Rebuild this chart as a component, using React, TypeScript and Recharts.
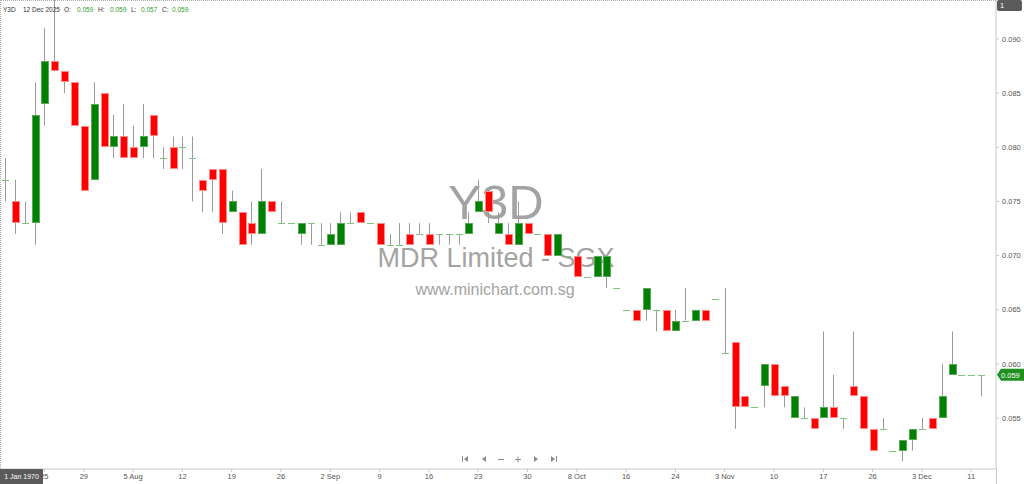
import { ComposedChart, Bar, XAxis, YAxis, ReferenceLine } from "recharts";

// daily OHLC, one entry per trading day (Jul 2025 - 12 Dec 2025)
const opens = [
  0.077, 0.075, 0.073, 0.073, 0.084, 0.088, 0.087, 0.086, 0.082, 0.077,
  0.085, 0.080, 0.081, 0.080, 0.080, 0.083, 0.079, 0.080, 0.080, 0.079,
  0.077, 0.078, 0.078, 0.074, 0.074, 0.073, 0.072, 0.075, 0.073, 0.073,
  0.072, 0.073, 0.071, 0.071, 0.071, 0.073, 0.074, 0.073, 0.073, 0.071,
  0.071, 0.072, 0.072, 0.072, 0.072, 0.072, 0.072, 0.072, 0.074, 0.076,
  0.072, 0.072, 0.071, 0.073, 0.072, 0.072, 0.070, 0.070, 0.070, 0.068,
  0.068, 0.068, 0.067, 0.065, 0.065, 0.065, 0.065, 0.065, 0.063, 0.064,
  0.064, 0.065, 0.066, 0.061, 0.062, 0.057, 0.056, 0.058, 0.060, 0.058,
  0.055, 0.055, 0.055, 0.055, 0.056, 0.055, 0.058, 0.057, 0.054, 0.054,
  0.052, 0.052, 0.053, 0.054, 0.055, 0.055, 0.059, 0.059, 0.059, 0.059,
];
const highs = [
  0.079, 0.077, 0.075, 0.086, 0.091, 0.094, 0.087, 0.086, 0.082, 0.086,
  0.085, 0.083, 0.084, 0.082, 0.084, 0.083, 0.080, 0.081, 0.081, 0.081,
  0.077, 0.078, 0.078, 0.076, 0.074, 0.075, 0.078, 0.075, 0.075, 0.073,
  0.073, 0.073, 0.073, 0.073, 0.074, 0.074, 0.074, 0.073, 0.073, 0.072,
  0.073, 0.073, 0.073, 0.073, 0.072, 0.072, 0.072, 0.074, 0.077, 0.076,
  0.074, 0.073, 0.075, 0.073, 0.072, 0.072, 0.072, 0.070, 0.070, 0.068,
  0.070, 0.070, 0.067, 0.065, 0.065, 0.067, 0.065, 0.065, 0.065, 0.067,
  0.065, 0.065, 0.066, 0.067, 0.062, 0.057, 0.056, 0.060, 0.060, 0.058,
  0.057, 0.056, 0.055, 0.063, 0.059, 0.055, 0.063, 0.057, 0.054, 0.055,
  0.052, 0.053, 0.054, 0.055, 0.055, 0.060, 0.063, 0.059, 0.059, 0.059,
];
const lows = [
  0.075, 0.072, 0.073, 0.071, 0.082, 0.087, 0.085, 0.082, 0.076, 0.077,
  0.080, 0.079, 0.079, 0.079, 0.079, 0.079, 0.078, 0.078, 0.078, 0.075,
  0.074, 0.074, 0.072, 0.074, 0.071, 0.071, 0.072, 0.074, 0.073, 0.073,
  0.071, 0.071, 0.071, 0.071, 0.071, 0.073, 0.073, 0.073, 0.071, 0.071,
  0.071, 0.071, 0.072, 0.071, 0.071, 0.071, 0.071, 0.072, 0.074, 0.073,
  0.072, 0.071, 0.071, 0.072, 0.072, 0.070, 0.070, 0.070, 0.068, 0.068,
  0.068, 0.067, 0.067, 0.065, 0.064, 0.064, 0.063, 0.063, 0.063, 0.064,
  0.064, 0.064, 0.066, 0.061, 0.054, 0.056, 0.056, 0.056, 0.057, 0.056,
  0.055, 0.055, 0.054, 0.055, 0.055, 0.054, 0.057, 0.054, 0.052, 0.054,
  0.052, 0.051, 0.052, 0.054, 0.054, 0.055, 0.059, 0.059, 0.059, 0.057,
];
const closes = [
  0.077, 0.073, 0.073, 0.083, 0.088, 0.087, 0.086, 0.082, 0.076, 0.084,
  0.080, 0.081, 0.079, 0.079, 0.081, 0.081, 0.079, 0.078, 0.080, 0.079,
  0.076, 0.077, 0.073, 0.075, 0.071, 0.072, 0.075, 0.074, 0.073, 0.073,
  0.073, 0.073, 0.071, 0.072, 0.073, 0.073, 0.073, 0.073, 0.071, 0.071,
  0.071, 0.071, 0.072, 0.071, 0.072, 0.072, 0.072, 0.073, 0.075, 0.074,
  0.073, 0.071, 0.073, 0.072, 0.072, 0.070, 0.072, 0.070, 0.068, 0.068,
  0.070, 0.070, 0.067, 0.065, 0.064, 0.067, 0.065, 0.063, 0.064, 0.064,
  0.065, 0.064, 0.066, 0.061, 0.056, 0.056, 0.056, 0.060, 0.057, 0.057,
  0.057, 0.055, 0.054, 0.056, 0.055, 0.055, 0.057, 0.054, 0.052, 0.054,
  0.052, 0.053, 0.054, 0.054, 0.054, 0.057, 0.060, 0.059, 0.059, 0.059,
];

const tickIdx = [4, 8, 13, 18, 23, 28, 33, 38, 43, 48, 53, 58, 63, 68, 73, 78, 83, 88, 93, 98];
const tickLabels = ["25", "29", "5 Aug", "12", "19", "26", "2 Sep", "9", "16", "23", "30", "8 Oct", "16", "24", "3 Nov", "10", "17", "26", "3 Dec", "11"];
const priceTicks = [0.055, 0.06, 0.065, 0.07, 0.075, 0.08, 0.085, 0.09];

const data = opens.map((o, i) => ({
  i,
  o,
  h: highs[i],
  l: lows[i],
  c: closes[i],
  range: [lows[i], highs[i]],
}));

const last = data[data.length - 1];

function Candle(props: any) {
  const { x, y, width, height, payload } = props;
  const { o, h, l, c } = payload;
  const cx = Math.round(x + width / 2);
  const k = h > l ? height / (h - l) : 0;
  const py = (v: number) => y + (h - v) * k;
  const wick = h > l ? (
    <line x1={cx + 0.5} x2={cx + 0.5} y1={py(h)} y2={py(l)} stroke="#9a9a9a" />
  ) : null;
  if (o === c) {
    const yy = Math.round(py(o)) + 0.5;
    return (
      <g>
        {wick}
        <line x1={cx - 3} x2={cx + 4} y1={yy} y2={yy} stroke="#7fc27f" />
      </g>
    );
  }
  const up = c > o;
  const top = Math.round(py(Math.max(o, c)));
  const bot = Math.round(py(Math.min(o, c)));
  return (
    <g>
      {wick}
      <rect
        x={cx - 3 + 0.5}
        y={top + 0.5}
        width={7}
        height={Math.max(bot - top - 1, 1)}
        fill={up ? "#008000" : "#ff0000"}
        stroke={up ? "#5aa85a" : "#ff8a8a"}
      />
    </g>
  );
}

function PriceTag(p: any) {
  const vb = p.viewBox;
  const x0 = vb.x + vb.width;
  const yy = vb.y;
  return (
    <g>
      <path d={`M${x0 + 1} ${yy} L${x0 + 5} ${yy - 6} H${x0 + 28} V${yy + 6} H${x0 + 5} Z`} fill="#1f8f1f" />
      <text x={x0 + 5} y={yy + 3} fontSize={7.5} fill="#fff">
        {last.c.toFixed(3)}
      </text>
    </g>
  );
}

export default function App() {
  const f3 = (v: number) => v.toFixed(3);
  const hdr = { position: "absolute" as const };
  const val = { position: "absolute" as const, color: "#2a9d2a" };
  return (
    <div
      style={{
        position: "absolute",
        left: 0,
        top: 0,
        width: 1024,
        height: 484,
        background: "#fff",
        fontFamily: "'Liberation Sans', Arial, sans-serif",
        overflow: "hidden",
      }}
    >
      {/* watermark */}
      <svg width={1024} height={484} style={{ position: "absolute", left: 0, top: 0 }}>
        <text x={496} y={219} textAnchor="middle" fontSize={49} fill="#a3a3a3">Y3D</text>
        <text x={496} y={267} textAnchor="middle" fontSize={27} fill="#a3a3a3">MDR Limited - SGX</text>
        <text x={495} y={295} textAnchor="middle" fontSize={16} fill="#a3a3a3">www.minichart.com.sg</text>
      </svg>

      <div style={{ position: "absolute", left: 0, top: 0 }}>
        <ComposedChart width={1024} height={484} data={data} margin={{ top: 0, right: 0, bottom: 0, left: 0 }}>
          <XAxis
            dataKey="i"
            type="category"
            ticks={tickIdx}
            interval={0}
            tickFormatter={(v: number) => tickLabels[tickIdx.indexOf(v)] ?? ""}
            height={15}
            tickSize={3}
            tickMargin={2}
            tick={{ fontSize: 7.5, fill: "#555" }}
            tickLine={{ stroke: "#c8c8c8" }}
            axisLine={{ stroke: "#c8c8c8" }}
            padding={{ left: 0, right: 10 }}
          />
          <YAxis
            orientation="right"
            width={28}
            domain={[0.0503, 0.0936]}
            allowDataOverflow
            ticks={priceTicks}
            interval={0}
            tickFormatter={f3}
            tickSize={3}
            tickMargin={3}
            tick={{ fontSize: 7.5, fill: "#555", textAnchor: "start" }}
            tickLine={{ stroke: "#c8c8c8" }}
            axisLine={{ stroke: "#c8c8c8" }}
          />
          <Bar dataKey="range" shape={<Candle />} isAnimationActive={false} />
          <ReferenceLine y={last.c} stroke="none" label={PriceTag} />
        </ComposedChart>
      </div>

      {/* frame */}
      <div style={{ position: "absolute", left: 0, top: 0, width: 996, height: 469, borderTop: "1px dotted #aaa", borderLeft: "1px dotted #aaa", boxSizing: "border-box", pointerEvents: "none" }} />
      <div style={{ position: "absolute", left: 996, top: 469, width: 1, height: 15, background: "#c8c8c8" }} />

      {/* header */}
      <div style={{ position: "absolute", left: 0, top: 6, fontSize: 6.5, color: "#333", whiteSpace: "nowrap" }}>
        <span style={{ ...hdr, left: 3 }}>Y3D</span>
        <span style={{ ...hdr, left: 23 }}>12 Dec 2025</span>
        <span style={{ ...hdr, left: 64 }}>O:</span>
        <span style={{ ...val, left: 77 }}>{f3(last.o)}</span>
        <span style={{ ...hdr, left: 98 }}>H:</span>
        <span style={{ ...val, left: 110 }}>{f3(last.h)}</span>
        <span style={{ ...hdr, left: 131 }}>L:</span>
        <span style={{ ...val, left: 141 }}>{f3(last.l)}</span>
        <span style={{ ...hdr, left: 162 }}>C:</span>
        <span style={{ ...val, left: 172 }}>{f3(last.c)}</span>
      </div>

      {/* crosshair tags */}
      <div style={{ position: "absolute", left: 997, top: 0, width: 25, height: 11, background: "#5a5a5a", borderRadius: 2, color: "#fff", fontSize: 7.5, lineHeight: "11px", paddingLeft: 3, boxSizing: "border-box" }}>1</div>
      <div style={{ position: "absolute", left: 0, top: 469, width: 43, height: 15, background: "#5a5a5a", color: "#fff", fontSize: 7, lineHeight: "15px", textAlign: "center" }}>1 Jan 1970</div>

      {/* navigation */}
      <svg width={110} height={14} style={{ position: "absolute", left: 455, top: 452 }} fill="#8a8a8a" stroke="#8a8a8a">
        <g transform="translate(10,7)">
          <rect x={-3} y={-3} width={1} height={6} stroke="none" />
          <path d="M3 -3 L-1 0 L3 3 Z" stroke="none" />
        </g>
        <path d="M31 4 L27 7 L31 10 Z" stroke="none" />
        <line x1={43} x2={49} y1={7.5} y2={7.5} />
        <line x1={60} x2={66} y1={7.5} y2={7.5} />
        <line x1={63} x2={63} y1={4.5} y2={10.5} />
        <path d="M79 4 L83 7 L79 10 Z" stroke="none" />
        <g transform="translate(99,7)">
          <path d="M-3 -3 L1 0 L-3 3 Z" stroke="none" />
          <rect x={2} y={-3} width={1} height={6} stroke="none" />
        </g>
      </svg>
    </div>
  );
}
